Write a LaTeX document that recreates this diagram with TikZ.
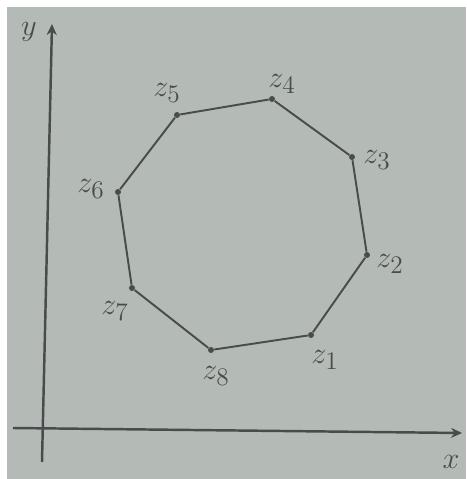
\documentclass[tikz,border=0pt]{standalone}
\usetikzlibrary{arrows.meta, positioning}
\definecolor{paper}{RGB}{180,186,182}
\definecolor{ink}{RGB}{72,76,76}

\begin{document}
\begin{tikzpicture}[
                x=0.02cm, y=-0.02cm,
                vertex/.style={circle, fill=ink, inner sep=0pt, minimum size=1.2mm},
                vlabel/.style={text=ink, font=\fontsize{19}{22}\selectfont},
                edge/.style={draw=ink, line width=1.1pt},
                axis/.style={draw=ink, line width=1.4pt, -{Stealth[length=2.2mm, width=2mm]}}
            ]
                % Frame
                \useasboundingbox (0,0) rectangle (466,479);
                \fill[white] (0,0) rectangle (466,479);
                \fill[paper] (7,7) rectangle (466,479);

                % Axes
                \coordinate (X_start) at (13,428);
                \coordinate (X_end) at (462,433);
                \coordinate (Y_start) at (42,462);
                \coordinate (Y_end) at (52,24);
                \path [axis] (X_start) -- (X_end);
                \path [axis] (Y_start) -- (Y_end);
                \node [vlabel] (X_label) at (451,462) {$x$};
                \node [vlabel] (Y_label) at (29,32) {$y$};

                % Place nodes
                \node [vertex] (Z1) at (311,335) {};
                \node [vertex] (Z2) at (367,255) {};
                \node [vertex] (Z3) at (352,157) {};
                \node [vertex] (Z4) at (272,99) {};
                \node [vertex] (Z5) at (177,115) {};
                \node [vertex] (Z6) at (118,192) {};
                \node [vertex] (Z7) at (132,288) {};
                \node [vertex] (Z8) at (211,350) {};

                % Labels
                \node [vlabel] (Z1_label) at (325,360) {$z_1$};
                \node [vlabel] (Z2_label) at (390,264) {$z_2$};
                \node [vlabel] (Z3_label) at (377,160) {$z_3$};
                \node [vlabel] (Z4_label) at (282,84) {$z_4$};
                \node [vlabel] (Z5_label) at (167,93) {$z_5$};
                \node [vlabel] (Z6_label) at (91,189) {$z_6$};
                \node [vlabel] (Z7_label) at (115,311) {$z_7$};
                \node [vlabel] (Z8_label) at (216,376) {$z_8$};

                % Draw edges
                \path [edge] (Z1) -- (Z2) -- (Z3) -- (Z4) -- (Z5) -- (Z6) -- (Z7) -- (Z8) -- (Z1);

            \end{tikzpicture}
\end{document}
